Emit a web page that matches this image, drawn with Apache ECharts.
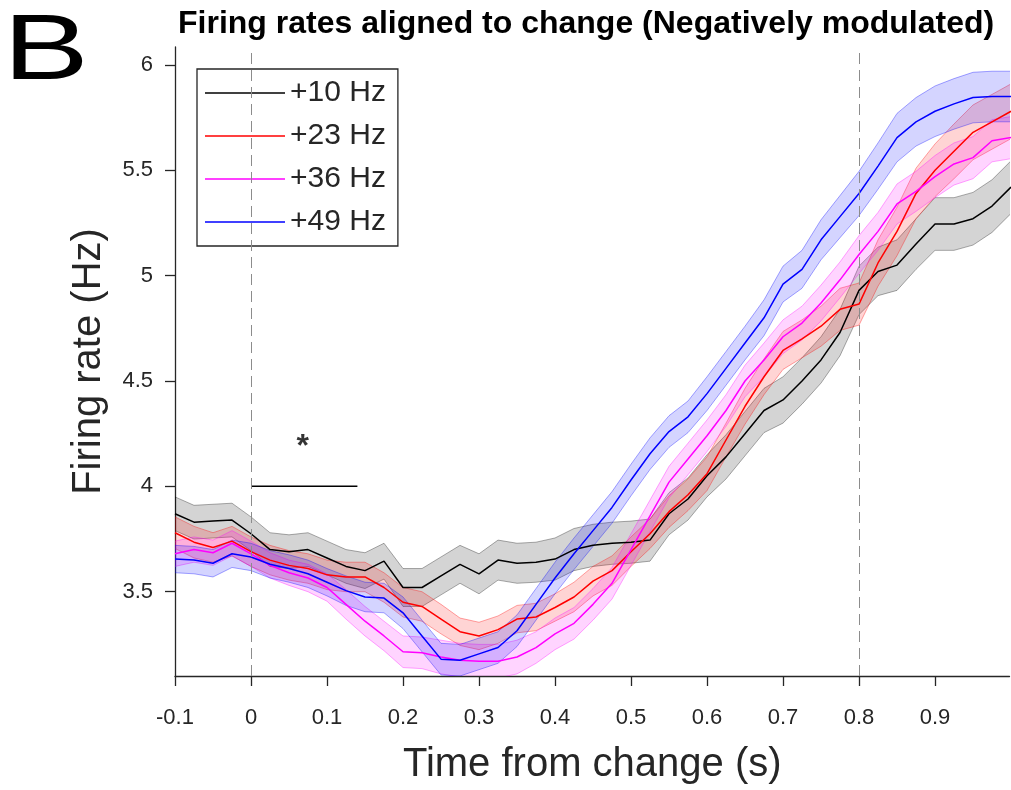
<!DOCTYPE html>
<html>
<head>
<meta charset="utf-8">
<script src="https://cdn.jsdelivr.net/npm/echarts@6/dist/echarts.min.js"></script>
<style>html,body{margin:0;padding:0;background:#fff;}#chart{width:1011px;height:790px;}</style>
</head>
<body>
<div id="chart"></div>
<script>
// time samples (s)
const time = [-0.1,-0.075,-0.05,-0.025,0,0.025,0.05,0.075,0.1,0.125,0.15,0.175,0.2,0.225,0.25,0.275,0.3,0.325,0.35,0.375,0.4,0.425,0.45,0.475,0.5,0.525,0.55,0.575,0.6,0.625,0.65,0.675,0.7,0.725,0.75,0.775,0.8,0.825,0.85,0.875,0.9,0.925,0.95,0.975,1.0];
const seriesNames = ['+10 Hz','+23 Hz','+36 Hz','+49 Hz'];
// mean firing rates (Hz)
const rate10 = [3.87,3.83,3.835,3.84,3.775,3.70,3.69,3.70,3.66,3.62,3.60,3.645,3.52,3.52,3.575,3.63,3.585,3.65,3.635,3.64,3.655,3.70,3.72,3.73,3.735,3.745,3.87,3.94,4.05,4.14,4.25,4.36,4.41,4.50,4.60,4.73,4.93,5.02,5.05,5.15,5.245,5.245,5.27,5.33,5.42];
const rate23 = [3.78,3.735,3.71,3.74,3.69,3.65,3.625,3.61,3.58,3.57,3.57,3.52,3.45,3.43,3.37,3.31,3.29,3.32,3.37,3.38,3.425,3.475,3.55,3.60,3.69,3.775,3.88,3.96,4.06,4.22,4.38,4.52,4.645,4.70,4.76,4.84,4.865,5.06,5.21,5.39,5.50,5.59,5.68,5.73,5.78];
const rate36 = [3.68,3.70,3.685,3.73,3.68,3.625,3.59,3.565,3.52,3.44,3.36,3.29,3.215,3.21,3.19,3.175,3.17,3.17,3.19,3.235,3.30,3.35,3.44,3.54,3.70,3.86,4.02,4.13,4.24,4.36,4.50,4.60,4.71,4.775,4.87,4.98,5.10,5.21,5.34,5.40,5.47,5.53,5.56,5.64,5.655];
const rate49 = [3.655,3.65,3.635,3.68,3.665,3.63,3.61,3.585,3.545,3.505,3.475,3.47,3.40,3.29,3.18,3.175,3.205,3.235,3.315,3.44,3.565,3.68,3.79,3.90,4.03,4.155,4.26,4.33,4.44,4.56,4.68,4.80,4.96,5.03,5.17,5.28,5.39,5.52,5.655,5.73,5.78,5.815,5.845,5.85,5.85];
// standard errors (Hz)
const sem10 = [0.08,0.08,0.08,0.08,0.08,0.08,0.08,0.08,0.08,0.08,0.085,0.085,0.09,0.09,0.09,0.09,0.095,0.095,0.095,0.095,0.1,0.1,0.1,0.1,0.1,0.1,0.1,0.1,0.1,0.105,0.105,0.105,0.11,0.11,0.11,0.11,0.115,0.115,0.12,0.12,0.125,0.125,0.125,0.125,0.125];
const sem23 = [0.075,0.075,0.07,0.07,0.07,0.07,0.07,0.07,0.07,0.07,0.07,0.07,0.07,0.07,0.07,0.065,0.065,0.065,0.065,0.065,0.065,0.07,0.07,0.07,0.07,0.07,0.075,0.075,0.08,0.08,0.085,0.085,0.09,0.09,0.095,0.1,0.1,0.11,0.115,0.12,0.125,0.13,0.13,0.13,0.13];
const sem36 = [0.06,0.06,0.06,0.06,0.06,0.06,0.06,0.065,0.065,0.07,0.07,0.07,0.075,0.075,0.08,0.08,0.08,0.08,0.08,0.075,0.075,0.075,0.075,0.075,0.075,0.075,0.075,0.075,0.075,0.075,0.075,0.08,0.08,0.08,0.085,0.085,0.09,0.09,0.095,0.095,0.1,0.1,0.1,0.1,0.1];
const sem49 = [0.065,0.065,0.065,0.065,0.065,0.065,0.065,0.065,0.065,0.07,0.07,0.07,0.075,0.075,0.075,0.075,0.075,0.075,0.075,0.075,0.075,0.075,0.075,0.075,0.075,0.075,0.075,0.075,0.08,0.08,0.08,0.085,0.085,0.09,0.095,0.1,0.105,0.11,0.115,0.115,0.12,0.12,0.12,0.12,0.12];
// significance bar and marker
const sigBarX = [0, 0.14];
const sigBarY = 4.0;
const sigStar = [0.068, 4.2];
const eventLines = [0, 0.8];
const xTicks = [-0.1,0,0.1,0.2,0.3,0.4,0.5,0.6,0.7,0.8,0.9];
const yTicks = [3.5,4,4.5,5,5.5,6];

const rates = [rate10, rate23, rate36, rate49];
const sems = [sem10, sem23, sem36, sem49];
const lineColors = ['#000000','#ff0000','#ff00ff','#0000ff'];
const fillColors = ['rgba(0,0,0,0.17)','rgba(255,0,0,0.17)','rgba(255,0,255,0.17)','rgba(0,0,255,0.17)'];
const edgeColors = ['rgba(0,0,0,0.32)','rgba(255,0,0,0.35)','rgba(255,0,255,0.35)','rgba(0,0,255,0.35)'];
const FONT = 'Liberation Sans, Arial, Helvetica, sans-serif';
const TXT = '#262626';

const series = [];
rates.forEach((r, k) => {
  const s = sems[k];
  const pts = time.map((t, i) => [t, r[i], r[i] + s[i], r[i] - s[i]]);
  series.push({
    type: 'custom', name: 'band' + k, silent: true, clip: true,
    data: pts,
    encode: { x: 0, y: 1 },
    renderItem: function (params, api) {
      if (params.dataIndex !== 0) return null;
      const up = pts.map(p => api.coord([p[0], p[2]]));
      const lo = pts.map(p => api.coord([p[0], p[3]])).reverse();
      return {
        type: 'polygon',
        shape: { points: up.concat(lo) },
        style: { fill: fillColors[k], stroke: edgeColors[k], lineWidth: 1 }
      };
    }
  });
  series.push({
    type: 'line', name: seriesNames[k],
    data: time.map((t, i) => [t, r[i]]),
    symbol: 'none', showSymbol: false,
    lineStyle: { color: lineColors[k], width: 1.5 },
    itemStyle: { color: lineColors[k] },
    emphasis: { disabled: true },
    silent: true
  });
});
// dashed event lines
series.push({
  type: 'line', name: 'events', data: [], silent: true,
  markLine: {
    symbol: 'none', silent: true, label: { show: false },
    lineStyle: { color: '#8c8c8c', type: [11, 6], width: 1 },
    data: eventLines.map(v => ({ xAxis: v }))
  }
});
// significance bar
series.push({
  type: 'line', name: 'sig', silent: true, symbol: 'none',
  data: sigBarX.map(x => [x, sigBarY]),
  lineStyle: { color: '#000', width: 1.5 }
});
series.push({
  type: 'scatter', name: 'star', silent: true, symbolSize: 0,
  data: [sigStar],
  label: { show: true, formatter: '*', position: 'inside', fontSize: 32, fontWeight: 'bold', color: '#000', fontFamily: FONT, offset: [0, 3] }
});

const chart = echarts.init(document.getElementById('chart'), null, { renderer: 'canvas' });
chart.setOption({
  animation: false,
  backgroundColor: '#fff',
  title: {
    text: 'Firing rates aligned to change (Negatively modulated)',
    left: 173, top: 3,
    textStyle: { fontFamily: FONT, fontWeight: 'bold', fontSize: 32, color: '#000' }
  },
  graphic: [{
    type: 'text', left: 3, top: 8, scaleX: 1.4,
    style: { text: 'B', fontFamily: FONT, fontSize: 92, fill: '#000' }
  }],
  legend: {
    data: seriesNames.map(n => ({ name: n, icon: 'rect' })),
    orient: 'vertical', left: 197, top: 69,
    backgroundColor: '#fff',
    borderColor: TXT, borderWidth: 1.3,
    padding: [9, 12, 9, 8],
    itemWidth: 80, itemHeight: 1.5, itemGap: 13,
    selectedMode: false,
    textStyle: { fontFamily: FONT, fontSize: 30, color: TXT, lineHeight: 30, padding: [0, 0, 0, 0] }
  },
  grid: { left: 175, top: 47, right: 1.5, bottom: 113, containLabel: false },
  xAxis: {
    type: 'value', min: -0.1, max: 0.998,
    name: 'Time from change (s)', nameLocation: 'middle', nameGap: 69,
    nameTextStyle: { fontFamily: FONT, fontSize: 40, color: TXT },
    axisLine: { onZero: false, lineStyle: { color: TXT, width: 1.3 } },
    axisTick: { show: true, inside: false, length: 10, lineStyle: { color: TXT, width: 1.3 }, customValues: xTicks },
    axisLabel: { fontFamily: FONT, fontSize: 22, color: TXT, margin: 31, customValues: xTicks,
      formatter: v => String(+(+v).toFixed(1)) },
    splitLine: { show: false }
  },
  yAxis: {
    type: 'value', min: 3.1, max: 6.085,
    name: 'Firing rate (Hz)', nameLocation: 'middle', nameGap: 66, nameRotate: 90,
    nameTextStyle: { fontFamily: FONT, fontSize: 40, color: TXT },
    axisLine: { show: true, onZero: false, lineStyle: { color: TXT, width: 1.3 } },
    axisTick: { show: true, inside: false, length: 10, lineStyle: { color: TXT, width: 1.3 }, customValues: yTicks },
    axisLabel: { fontFamily: FONT, fontSize: 22, color: TXT, margin: 22, customValues: yTicks,
      formatter: v => String(+(+v).toFixed(1)) },
    splitLine: { show: false }
  },
  series: series
});
</script>
</body>
</html>
